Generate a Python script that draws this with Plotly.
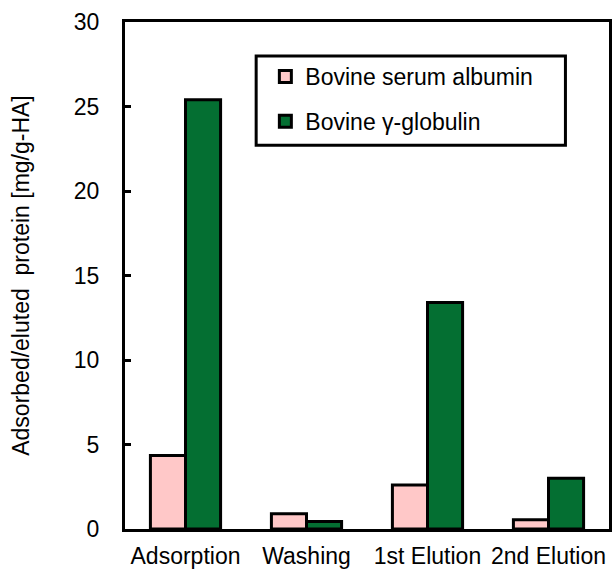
import plotly.graph_objects as go

# Protein amounts per step [mg/g-HA]
steps = ["Adsorption", "Washing", "1st Elution", "2nd Elution"]
bsa = [4.35, 0.9, 2.6, 0.55]
bgg = [25.4, 0.45, 13.4, 3.0]
y_ticks = [0, 5, 10, 15, 20, 25, 30]

FONT = "Arial, Liberation Sans, sans-serif"

fig = go.Figure()
fig.add_trace(go.Bar(
    x=steps, y=bsa, name="Bovine serum albumin", legendgroup="a",
    marker=dict(color="#FFC8C8", line=dict(color="black", width=3)),
))
fig.add_trace(go.Bar(
    x=steps, y=bgg, name="Bovine \u03b3-globulin", legendgroup="b",
    marker=dict(color="#046F32", line=dict(color="black", width=3)),
))

fig.update_layout(
    width=616, height=573,
    margin=dict(l=125, r=4, t=22, b=42),
    paper_bgcolor="white", plot_bgcolor="white",
    font=dict(family=FONT, color="black"),
    barmode="group", bargap=0.42, bargroupgap=0,
    showlegend=True,
    legend=dict(
        x=0.29, y=0.935, xanchor="left", yanchor="top",
        bgcolor="rgba(0,0,0,0)", borderwidth=0,
        font=dict(size=23, family=FONT), tracegroupgap=12,
    ),
    xaxis=dict(
        showline=True, linecolor="black", linewidth=3, mirror=True,
        ticks="", tickfont=dict(size=23), showgrid=False,
        ticklabelstandoff=4,
    ),
    yaxis=dict(
        range=[0, 30], tickvals=y_ticks,
        showline=True, linecolor="black", linewidth=3, mirror=True,
        ticks="inside", ticklen=6, tickwidth=3, tickcolor="black",
        tickfont=dict(size=23), showgrid=False, zeroline=False,
        ticklabelstandoff=18,
        title=dict(text="Adsorbed/eluted  protein [mg/g-HA]", font=dict(size=23), standoff=38),
    ),
    shapes=[dict(
        type="rect", xref="paper", yref="paper",
        x0=0.271, x1=0.910, y0=0.757, y1=0.933,
        line=dict(color="black", width=3), fillcolor="rgba(0,0,0,0)",
    )],
)

fig.write_html("out.html")
